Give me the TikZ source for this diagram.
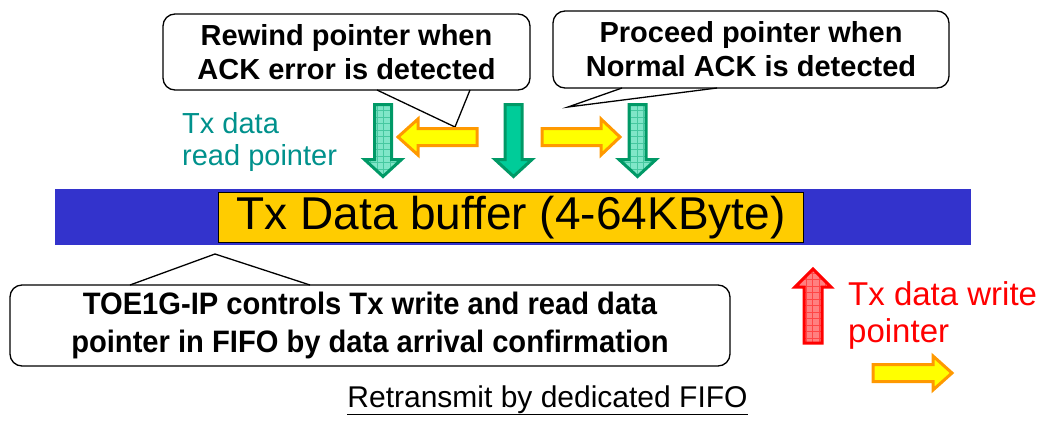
\documentclass[tikz,border=0pt]{standalone}
\usepackage{fontspec}
\setmainfont{Liberation Sans}
\definecolor{barblue}{RGB}{51,51,204}
\definecolor{bufyellow}{RGB}{255,204,0}
\definecolor{gborder}{RGB}{0,153,102}
\definecolor{gsolid}{RGB}{0,204,153}
\definecolor{gmint}{RGB}{128,230,200}
\definecolor{ggrid}{RGB}{70,200,160}
\definecolor{yfill}{RGB}{255,255,0}
\definecolor{yborder}{RGB}{255,153,0}
\definecolor{rfill}{RGB}{255,128,128}
\definecolor{rgrid}{RGB}{255,70,70}
\definecolor{tealtext}{RGB}{0,145,140}
\newcommand\dnshape[2]{(#1-8.5,#2) -- (#1+8.5,#2) -- (#1+8.5,#2+55) -- (#1+18.5,#2+55) -- (#1,#2+72) -- (#1-18.5,#2+55) -- (#1-8.5,#2+55) -- cycle}
\begin{document}
\begin{tikzpicture}[x=1pt,y=-1pt,
  callout/.style={draw=black, line width=1.3pt, fill=white, rounded corners=12pt, inner sep=0pt, align=center, font=\bfseries\fontsize{29}{34}\selectfont},
  tailline/.style={draw=black, line width=1.3pt, line join=miter},
  garrow/.style={draw=gborder, line width=3pt, line join=miter},
  yarrow/.style={draw=yborder, fill=yfill, line width=3pt, line join=miter},
  rarrow/.style={draw=red, line width=3pt, line join=miter}
]
\useasboundingbox (0,0) rectangle (1039,421);

% FIFO bar and buffer
\node[fill=barblue, minimum width=916pt, minimum height=56pt, inner sep=0pt] (bar) at (513,217) {};
\node[draw=black, line width=1.5pt, fill=bufyellow, minimum width=585pt, minimum height=50pt, inner sep=0pt, font=\fontsize{46}{50}\selectfont] (buf) at (511,217.5) {Tx Data buffer (4-64KByte)};

% callout 1
\node[callout, minimum width=367pt, minimum height=76pt] (c1) at (346.5,52) {Rewind pointer when\\ACK error is detected};
\coordinate (c1a) at (377,90);
\coordinate (c1t) at (455,127);
\coordinate (c1b) at (470,90);
\fill[white] ([yshift=-2pt]c1a) -- (c1t) -- ([yshift=-2pt]c1b) -- cycle;
\draw[tailline] (c1a) -- (c1t) -- (c1b);

% callout 2
\node[callout, minimum width=396pt, minimum height=77pt] (c2) at (751,49.5) {Proceed pointer when\\Normal ACK is detected};
\coordinate (c2a) at (622,88);
\coordinate (c2t) at (568,107);
\coordinate (c2b) at (717,88);
\fill[white] ([yshift=-2pt]c2a) -- (c2t) -- ([yshift=-2pt]c2b) -- cycle;
\draw[tailline] (c2a) -- (c2t) -- (c2b);

% callout 3
\node[callout, minimum width=720pt, minimum height=81pt, font=\bfseries\fontsize{31}{38}\selectfont] (c3) at (370,325.5) {\scalebox{.94}[1]{TOE1G-IP controls Tx write and read data}\\\scalebox{.94}[1]{pointer in FIFO by data arrival confirmation}};
\coordinate (c3a) at (130,285);
\coordinate (c3t) at (215,254);
\coordinate (c3b) at (310,285);
\fill[white] ([yshift=2pt]c3a) -- (c3t) -- ([yshift=2pt]c3b) -- cycle;
\draw[tailline] (c3a) -- (c3t) -- (c3b);

% green read pointer arrows
\begin{scope}
  \clip \dnshape{383}{104.5};
  \fill[gmint] (360,100) rectangle (410,180);
  \draw[ggrid, line width=0.6pt, step=6.5pt] (360,100) grid (410,180);
\end{scope}
\draw[garrow] \dnshape{383}{104.5};
\draw[garrow, fill=gsolid] \dnshape{513.5}{104.5};
\begin{scope}
  \clip \dnshape{637.5}{104.5};
  \fill[gmint] (615,100) rectangle (660,180);
  \draw[ggrid, line width=0.6pt, step=6.5pt] (615,100) grid (660,180);
\end{scope}
\draw[garrow] \dnshape{637.5}{104.5};

% yellow moving arrows
\draw[yarrow] (398,137) -- (418,119) -- (418,128.5) -- (477,128.5) -- (477,145.5) -- (418,145.5) -- (418,155) -- cycle;
\draw[yarrow] (542,128.5) -- (601,128.5) -- (601,119) -- (620,137) -- (601,155) -- (601,145.5) -- (542,145.5) -- cycle;
\draw[yarrow] (873,364.5) -- (933,364.5) -- (933,356) -- (952,373) -- (933,390) -- (933,381.5) -- (873,381.5) -- cycle;

% red write pointer arrow
\begin{scope}
  \clip (813,269) -- (831,287) -- (822,287) -- (822,343) -- (804,343) -- (804,287) -- (795,287) -- cycle;
  \fill[rfill] (790,265) rectangle (835,345);
  \draw[rgrid, line width=0.6pt, step=6.5pt] (790,265) grid (835,345);
\end{scope}
\draw[rarrow] (813,269) -- (831,287) -- (822,287) -- (822,343) -- (804,343) -- (804,287) -- (795,287) -- cycle;

% labels
\node[anchor=north west, inner sep=0pt, align=left, text=tealtext, font=\fontsize{29}{32}\selectfont] (rp) at (182,112) {Tx data\\read pointer};
\node[anchor=north west, inner sep=0pt, align=left, text=red, font=\fontsize{33}{37.5}\selectfont] (wp) at (848,281) {Tx data write\\pointer};
\node[anchor=base, inner sep=0pt, font=\fontsize{30}{34}\selectfont] (title) at (547.5,407) {\underline{Retransmit by dedicated FIFO}};
\end{tikzpicture}
\end{document}
